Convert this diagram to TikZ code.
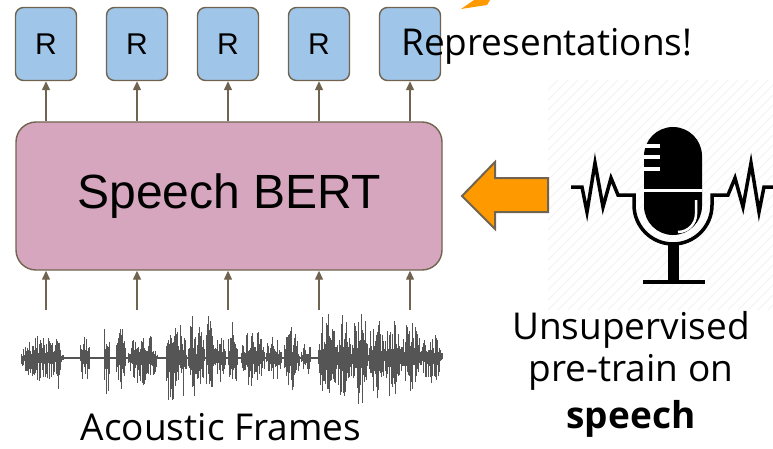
\documentclass[tikz,border=0pt]{standalone}
\usepackage{fontspec}
\setmainfont{Open Sans}
\newfontfamily\arialfont{Liberation Sans}
\usetikzlibrary{arrows.meta}

\definecolor{edgebrown}{RGB}{112,100,80}
\definecolor{repblue}{HTML}{9FC5E8}
\definecolor{bertpink}{HTML}{D5A6BD}
\definecolor{pushorange}{HTML}{FF9900}
\definecolor{wavegray}{HTML}{555555}
\definecolor{stripegray}{HTML}{F2F2F2}

\tikzset{
  rbox/.style={draw=edgebrown, line width=1.4pt, fill=repblue, rounded corners=8pt,
    minimum width=61pt, minimum height=73pt, inner sep=0pt,
    font=\arialfont\fontsize{30}{36}\selectfont},
  bertbox/.style={draw=edgebrown, line width=1.4pt, fill=bertpink, rounded corners=20pt,
    minimum width=426pt, minimum height=148pt, inner sep=0pt,
    font=\arialfont\fontsize{48}{56}\selectfont},
  flow/.style={draw=edgebrown, line width=1.3pt, -{Triangle[width=8pt,length=9pt]}},
  wave/.style={wavegray, line width=1pt},
  micline/.style={line width=3.5pt},
  bigtext/.style={font=\fontsize{37}{42}\selectfont, inner sep=0pt},
}

\begin{document}
\begin{tikzpicture}[x=1pt, y=1pt]
  \useasboundingbox (0,0) rectangle (773,448);

  % faint striped backdrop behind the microphone
  \begin{scope}
    \clip (548,138) rectangle (773,368);
    \foreach \s in {0,10,...,460}
      \draw[stripegray, line width=1pt] (318+\s,138) -- ++(230,230);
  \end{scope}

  % encoder and its outputs
  \node[bertbox] (bert) at (229,252) {Speech BERT};
  \foreach \i/\x in {1/46,2/137,3/228,4/319} {
    \node[rbox] (r\i) at (\x,404) {R};
  }
  \node[rbox] (r5) at (410,404) {};
  \foreach \i/\x in {1/46,2/137,3/228,4/319,5/410} {
    \draw[flow] (bert.north -| r\i.south) -- (r\i.south);
    \coordinate (f\i) at (\x,138);
    \draw[flow] (f\i) -- (bert.south -| f\i);
  }
  \node[bigtext, anchor=base west] (reps) at (401,392) {Representations!};

  % waveform: bursts of random spikes
  \draw[wave, line width=1.2pt] (21,90) -- (442,90);
  \pgfmathsetseed{12}
  \foreach \a/\b/\h in {21/64/24, 56/60/40, 80/90/24, 104/110/46, 116/126/32,
      128/158/28, 166/178/52, 178/187/42, 188/197/50, 197/204/34, 206/215/46,
      215/226/24, 228/238/36, 241/265/30, 266/282/26, 284/300/32, 301/312/18,
      318/337/50, 337/351/44, 351/369/48, 369/385/46, 385/401/42, 401/421/38,
      421/442/26} {
    \pgfmathtruncatemacro\n{(\b-\a)/0.7}
    \foreach \i in {0,...,\n} {
      \pgfmathsetmacro\x{\a+0.7*\i}
      \pgfmathsetmacro\e{\h*(sin(180*(\i+0.5)/(\n+1)))^0.5}
      \pgfmathsetmacro\u{\e*(0.2+0.8*rnd^1.6)}
      \pgfmathsetmacro\d{\e*(0.2+0.8*rnd^1.6)}
      \draw[wave] (\x,90-\d) -- (\x,90+\u);
    }
  }
  \node[bigtext, anchor=base, text depth=0pt] (frames) at (221,8) {Acoustic Frames};

  % orange push arrow
  \draw[draw=edgebrown, line width=2pt, fill=pushorange, line join=miter]
    (462,252) -- (495,286) -- (495,270) -- (548,270) -- (548,236)
    -- (495,236) -- (495,219) -- cycle;
  \fill[pushorange] (461,439) -- (474,448) -- (490,448) -- (487,443) -- cycle;

  % microphone
  \fill[black, rounded corners=29pt] (644,213) rectangle (702,321);
  \foreach \y in {302,291,279}
    \draw[white, line width=3.5pt] (644,\y) -- (660,\y);
  \draw[white, line width=3pt] (644,258) -- (702,258);
  \draw[white, line width=2.5pt] (696,248) -- (696,234) arc[start angle=0, end angle=-90, radius=18];
  \draw[micline] (571,261) -- (582,261) -- (587,236) -- (595,285) -- (603,241)
    -- (611,270) -- (618,253) -- (634,253) -- (634,243)
    arc[start angle=180, end angle=360, radius=39]
    -- (712,253) -- (728,253) -- (735,270) -- (743,241) -- (751,285)
    -- (759,236) -- (764,261) -- (775,261);
  \fill[black] (668,168) rectangle (679,205);
  \draw[line width=4pt] (643,166) -- (705,166);

  \node[bigtext, align=center, anchor=base] (pretrain) at (631,20)
    {Unsupervised\\pre-train on\\[5pt]\textbf{speech}};
\end{tikzpicture}
\end{document}
